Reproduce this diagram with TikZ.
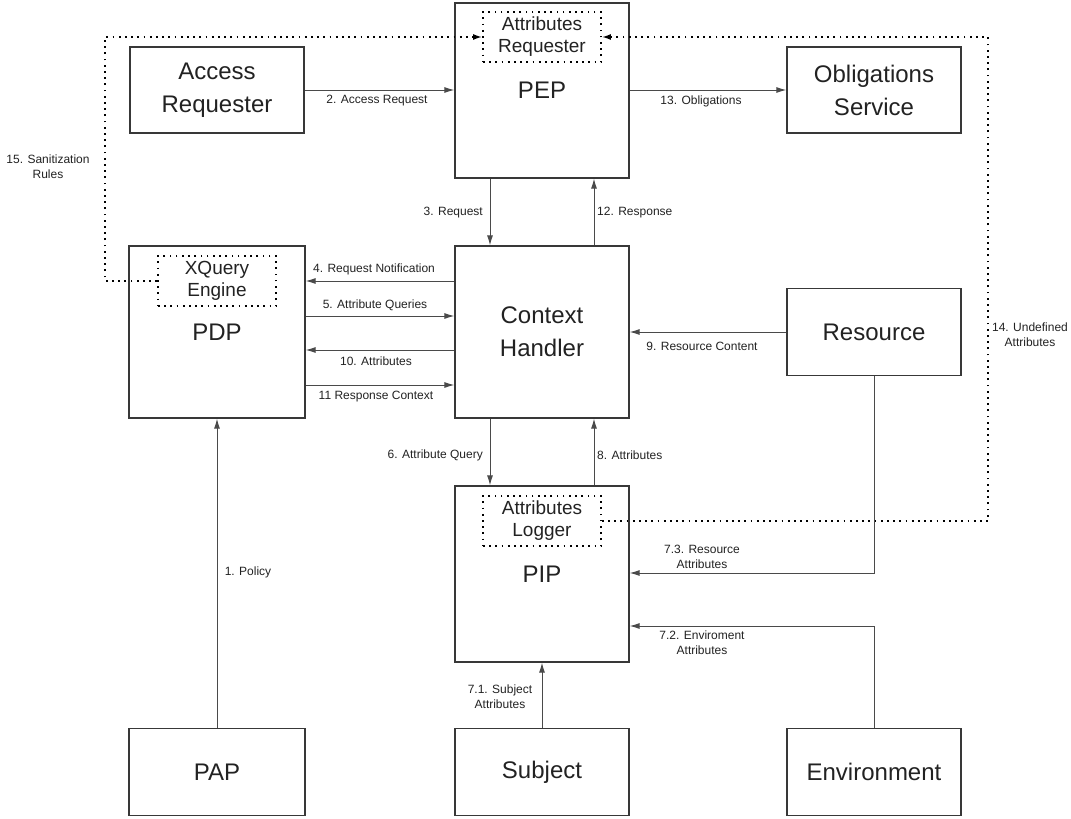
\documentclass[tikz,border=0pt]{standalone}
\usepackage{fontspec}
\setmainfont{Liberation Sans}
\usetikzlibrary{arrows.meta}

\definecolor{boxline}{HTML}{383838}
\definecolor{arrline}{HTML}{4A4A4A}
\definecolor{txt}{HTML}{222222}

\tikzset{
  box/.style={draw=boxline, line width=1.3pt, minimum width=174pt, minimum height=86pt,
    align=center, font=\fontsize{24}{33}\selectfont, text=txt, inner sep=0pt},
  tallbox/.style={box, minimum height=174pt},
  inbox/.style={draw=black, line width=1.7pt, dash pattern=on 1.7pt off 4.5pt,
    minimum width=118pt, minimum height=50pt, align=center,
    font=\fontsize{19}{22}\selectfont, text=txt, inner sep=0pt},
  conn/.style={draw=arrline, line width=1pt, -{Latex[length=10pt,width=6pt]}},
  dotconn/.style={draw=black, line width=1.7pt, dash pattern=on 1.7pt off 4.5pt,
    -{Latex[length=9pt,width=6pt]}},
  lbl/.style={font=\fontsize{12}{15}\selectfont, text=txt, align=center, inner sep=0pt},
}

\begin{document}
\begin{tikzpicture}[x=1pt,y=-1pt]
  \useasboundingbox (0,0) rectangle (1071,819);

  % boxes
  \node[box] (accreq) at (217,90) {Access\\Requester};
  \node[tallbox, minimum height=175pt] (pep) at (542,90.5) {PEP};
  \node[box] (obl) at (874,90) {Obligations\\Service};
  \node[tallbox, minimum width=176pt, minimum height=172pt] (pdp) at (217,332) {PDP};
  \node[tallbox, minimum height=172pt] (ctx) at (542,332) {Context\\Handler};
  \node[box, minimum height=87pt] (res) at (874,332) {Resource};
  \node[tallbox, minimum height=176pt] (pip) at (542,574) {PIP};
  \node[box, minimum width=176pt, minimum height=87pt] (pap) at (217,772) {PAP};
  \node[box, minimum height=87pt] (subj) at (542,772) {Subject};
  \node[box, minimum height=87pt] (env) at (874,772) {Environment};

  % inner components
  \node[inbox] (reqattr) at (542,37) {Attributes\\Requester};
  \node[inbox] (xq) at (217,281) {XQuery\\Engine};
  \node[inbox] (logger) at (542,521) {Attributes\\Logger};

  % solid connectors
  \draw[conn] (accreq.east) -- (accreq.east -| pep.west);
  \draw[conn] (pep.east |- obl.west) -- (obl.west);
  \draw[conn] ([xshift=-52pt]pep.south) -- ([xshift=-52pt]ctx.north);
  \draw[conn] ([xshift=52pt]ctx.north) -- ([xshift=52pt]pep.south);
  \draw[conn] ([yshift=51pt]ctx.west) -- ([yshift=51pt]pdp.east);
  \draw[conn] ([yshift=16pt]pdp.east) -- ([yshift=16pt]ctx.west);
  \draw[conn] ([yshift=-18pt]ctx.west) -- ([yshift=-18pt]pdp.east);
  \draw[conn] ([yshift=-53pt]pdp.east) -- ([yshift=-53pt]ctx.west);
  \draw[conn] (res.west) -- (ctx.east);
  \draw[conn] ([xshift=-52pt]ctx.south) -- ([xshift=-52pt]pip.north);
  \draw[conn] ([xshift=52pt]pip.north) -- ([xshift=52pt]ctx.south);
  \draw[conn] (pap.north) -- (pdp.south);
  \draw[conn] (subj.north) -- (pip.south);
  \draw[conn] (res.south) |- ([yshift=1pt]pip.east);
  \draw[conn] (env.north) |- ([yshift=-52pt]pip.east);

  % dotted connectors
  \coordinate (sanL) at (105,37);
  \coordinate (undefR) at (988,37);
  \draw[dotconn] (xq.west) -| (sanL) -- (reqattr.west);
  \draw[dotconn] (logger.east) -| (undefR) -- (reqattr.east);

  % labels
  \node[lbl] (l1) at (248,572) {1. Policy};
  \node[lbl] (l2) at (377,101) {2. Access Request};
  \node[lbl, anchor=east] (l3) at (483,213) {3. Request};
  \node[lbl] (l4) at (374,269) {4. Request Notification};
  \node[lbl] (l5) at (375,305) {5. Attribute Queries};
  \node[lbl, anchor=east] (l6) at (483,455) {6. Attribute Query};
  \node[lbl] (l71) at (500,697) {7.1. Subject\\Attributes};
  \node[lbl] (l72) at (702,643) {7.2. Enviroment\\Attributes};
  \node[lbl] (l73) at (702,557) {7.3. Resource\\Attributes};
  \node[lbl, anchor=west] (l8) at (597,455) {8. Attributes};
  \node[lbl] (l9) at (702,346) {9. Resource Content};
  \node[lbl] (l10) at (376,361) {10. Attributes};
  \node[lbl] (l11) at (376,397) {11 Response Context};
  \node[lbl, anchor=west] (l12) at (597,213) {12. Response};
  \node[lbl] (l13) at (701,101) {13. Obligations};
  \node[lbl] (l14) at (1030,335) {14. Undefined\\Attributes};
  \node[lbl] (l15) at (48,167) {15. Sanitization\\Rules};
\end{tikzpicture}
\end{document}
